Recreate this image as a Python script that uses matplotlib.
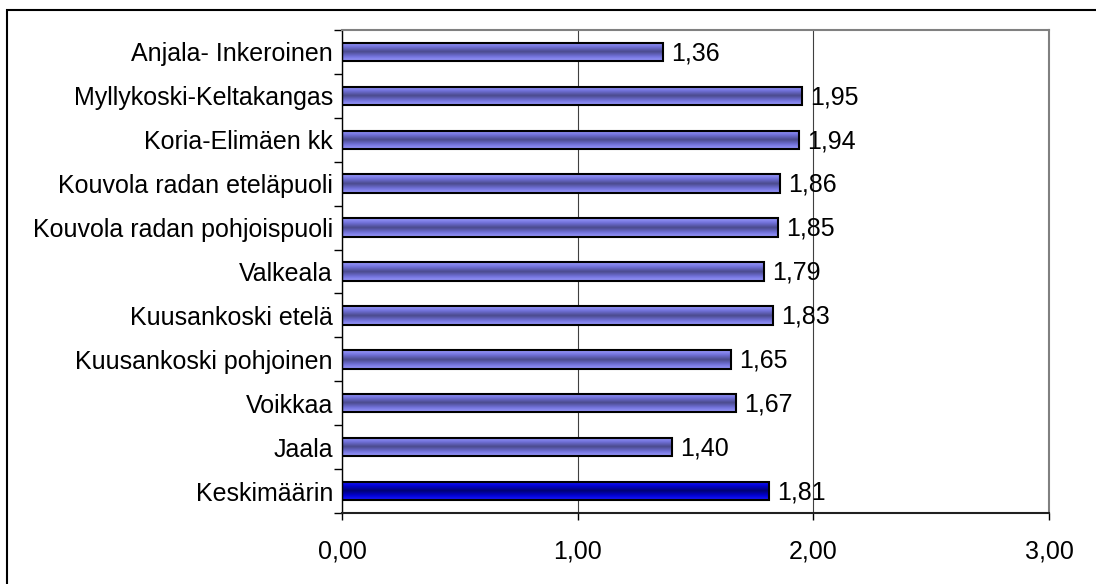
import matplotlib
matplotlib.use("Agg")
import matplotlib.pyplot as plt
import numpy as np
from matplotlib.patches import Rectangle
from matplotlib.colors import LinearSegmentedColormap

categories = ["Anjala- Inkeroinen", "Myllykoski-Keltakangas", "Koria-Elimäen kk",
              "Kouvola radan eteläpuoli", "Kouvola radan pohjoispuoli", "Valkeala",
              "Kuusankoski etelä", "Kuusankoski pohjoinen", "Voikkaa", "Jaala",
              "Keskimäärin"]
values = [1.36, 1.95, 1.94, 1.86, 1.85, 1.79, 1.83, 1.65, 1.67, 1.40, 1.81]
xticks = [0, 1, 2, 3]
xticklabels = ["0,00", "1,00", "2,00", "3,00"]

plt.rcParams['font.family'] = ['Liberation Sans', 'DejaVu Sans']

W, H = 1096, 584
FS = 18
fig = plt.figure(figsize=(W/100, H/100), dpi=100)
# outer border
fig.patches.append(Rectangle((7/W, -0.5), 1.2, 1.5 - 9.5/H, transform=fig.transFigure,
                             fill=False, edgecolor='black', linewidth=1.5))
ax = fig.add_axes([342/W, 1 - 513/H, (1049-342)/W, (513-30)/H])

n = len(categories)
ypos = np.arange(n)
bh = 0.42
cmap_norm = LinearSegmentedColormap.from_list("g", ["#9a9aff", "#7070d8", "#4a4a8c", "#7070d8", "#9a9aff"])
cmap_avg = LinearSegmentedColormap.from_list("a", ["#1a1aff", "#0000d0", "#000070", "#0000d0", "#1a1aff"])
grad = np.linspace(0, 1, 64).reshape(-1, 1)

bars = ax.barh(ypos, values, height=bh, color='none', edgecolor='black', linewidth=1.5, zorder=3)
for i, (b, v) in enumerate(zip(bars, values)):
    cm = cmap_avg if categories[i] == "Keskimäärin" else cmap_norm
    im = ax.imshow(grad, extent=(0, v, i + bh/2, i - bh/2), cmap=cm, aspect='auto', zorder=2,
                   interpolation='bilinear')
    im.set_clip_path(b)
    ax.text(v + 0.035, i + 0.03, f"{v:.2f}".replace('.', ','), va='center', ha='left',
            fontsize=FS, zorder=4)

ax.set_xlim(0, 3)
ax.set_ylim(n - 0.5, -0.5)
ax.set_xticks(xticks)
ax.set_xticklabels(xticklabels, fontsize=FS)
ax.set_yticks(ypos)
ax.set_yticklabels(categories, fontsize=FS, va='center_baseline')
ax.set_yticks(np.arange(-0.5, n, 1), minor=True)
ax.tick_params(axis='y', which='major', length=0, pad=6.5)
ax.tick_params(axis='y', which='minor', length=6, width=1, color='black', direction='out')
ax.tick_params(axis='x', which='major', length=5, width=1, direction='out', pad=14)
ax.grid(axis='x', color='#404040', linewidth=0.8, zorder=1)
ax.set_axisbelow(True)
for s in ['top', 'right']:
    ax.spines[s].set_color('#808080')
    ax.spines[s].set_linewidth(1.5)
ax.spines['left'].set_color('black')
ax.spines['bottom'].set_color('#202020')
ax.spines['left'].set_linewidth(1)
ax.spines['bottom'].set_linewidth(1.5)

fig.savefig("out.png", dpi=100)
